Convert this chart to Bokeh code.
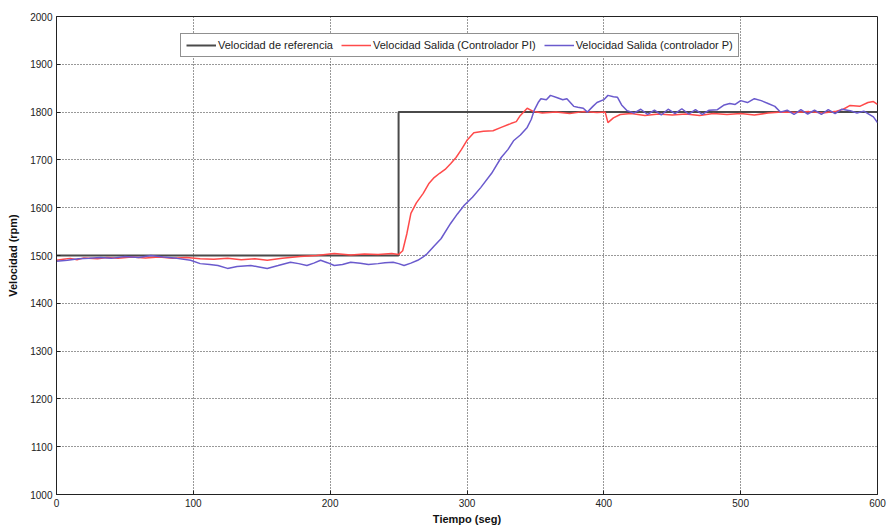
from bokeh.plotting import figure
from bokeh.models import Range1d, Legend, LegendItem, FixedTicker
from bokeh.embed import file_html
from bokeh.resources import INLINE

# Reference speed (step)
t_ref = [0, 250, 250, 600]
v_ref = [1500, 1500, 1800, 1800]

# Output speed, PI controller
t_pi = [0, 5, 10, 15, 20, 30, 37, 45, 55, 65, 75, 85, 95, 105, 115, 125, 135, 145, 154, 165,
        178, 190, 203, 215, 225, 235, 245, 250, 253, 256, 259, 263, 268, 272, 276, 280, 284, 288,
        292, 296, 300, 305, 312, 319, 325, 332, 336, 339, 344, 348, 355, 365, 375, 385, 395, 401,
        403, 407, 412, 420, 430, 440, 450, 460, 470, 480, 490, 500, 510, 520, 530, 540, 550, 560,
        570, 575, 580, 587, 593, 597, 600]
v_pi = [1490, 1492, 1494, 1491, 1495, 1493, 1496, 1494, 1497, 1495, 1497, 1494, 1496, 1493, 1492,
        1494, 1491, 1493, 1490, 1494, 1498, 1500, 1504, 1501, 1503, 1502, 1504, 1502, 1510, 1545,
        1588, 1610, 1630, 1650, 1663, 1672, 1680, 1692, 1705, 1722, 1741, 1757, 1760, 1761, 1768,
        1776, 1780, 1793, 1808, 1802, 1798, 1800, 1797, 1801, 1799, 1800, 1778, 1788, 1795, 1797,
        1793, 1796, 1794, 1796, 1793, 1797, 1795, 1797, 1794, 1798, 1800, 1799, 1801, 1798, 1802,
        1806, 1814, 1812, 1820, 1822, 1816]

# Output speed, P controller
t_p = [0, 8, 16, 24, 32, 40, 50, 60, 69, 78, 88, 98, 105, 112, 118, 125, 132, 142, 148, 154, 162,
       171, 177, 183, 188, 193, 198, 203, 209, 215, 222, 228, 235, 240, 246, 250, 254, 259, 264,
       268, 271, 276, 281, 288, 293, 298, 304, 310, 318, 325, 330, 334, 339, 344, 347, 349, 352,
       354, 358, 361, 366, 370, 373, 378, 381, 385, 388, 392, 395, 400, 403, 407, 410, 413, 417,
       422, 427, 432, 437, 442, 447, 452, 457, 462, 467, 472, 477, 483, 488, 492, 496, 500, 505,
       510, 515, 520, 525, 529, 534, 539, 544, 549, 554, 559, 564, 569, 574, 580, 585, 590, 593,
       597, 600]
v_p = [1488, 1490, 1493, 1494, 1496, 1494, 1498, 1496, 1500, 1497, 1494, 1490, 1483, 1481, 1479,
       1473, 1477, 1479, 1476, 1473, 1479, 1486, 1483, 1479, 1484, 1490, 1485, 1479, 1481, 1486,
       1484, 1481, 1483, 1485, 1486, 1483, 1479, 1484, 1490, 1497, 1504, 1520, 1535, 1567, 1587,
       1605, 1622, 1642, 1672, 1705, 1722, 1740, 1752, 1768, 1785, 1803, 1820, 1828, 1826, 1835,
       1830, 1826, 1828, 1812, 1810, 1808, 1800, 1812, 1820, 1826, 1835, 1832, 1831, 1815, 1803,
       1798, 1806, 1795, 1804, 1794, 1806, 1797, 1807, 1796, 1805, 1795, 1804, 1805, 1815, 1818,
       1816, 1824, 1820, 1828, 1824, 1818, 1812, 1800, 1804, 1795, 1805, 1796, 1804, 1795, 1805,
       1797, 1806, 1803, 1798, 1802, 1797, 1790, 1778]

x_ticks = [0, 100, 200, 300, 400, 500, 600]
y_ticks = [1000, 1100, 1200, 1300, 1400, 1500, 1600, 1700, 1800, 1900, 2000]

labels = ["Velocidad de referencia", "Velocidad Salida (Controlador PI)",
          "Velocidad Salida (controlador P)"]

FONT = "Liberation Sans Narrow, Liberation Sans, Arial Narrow, sans-serif"

p = figure(frame_width=821, frame_height=478, output_backend="svg", toolbar_location=None,
           x_range=Range1d(0, 600), y_range=Range1d(1000, 2000),
           min_border_left=56, min_border_right=10, min_border_top=16, min_border_bottom=34,
           background_fill_color="white", border_fill_color="white")

p.outline_line_color = "#222222"
p.outline_line_width = 1

r_ref = p.line(t_ref, v_ref, line_color="#4a4a4a", line_width=2)
r_pi = p.line(t_pi, v_pi, line_color="#ff4a4a", line_width=1.5)
r_p = p.line(t_p, v_p, line_color="#6a5acd", line_width=1.5)

for ax in (p.xaxis[0], p.yaxis[0]):
    ax.major_label_text_font = FONT
    ax.major_label_text_font_size = "10px"
    ax.major_label_text_color = "#222222"
    ax.axis_label_text_font = "Liberation Sans, Arial, sans-serif"
    ax.axis_label_text_font_style = "bold"
    ax.axis_label_text_font_size = "11px"
    ax.axis_label_text_color = "#111111"
    ax.axis_line_color = "#222222"
    ax.major_tick_in = 4
    ax.major_tick_out = 0
    ax.minor_tick_line_color = None
    ax.major_tick_line_color = "#222222"

p.xaxis.ticker = FixedTicker(ticks=x_ticks)
p.yaxis.ticker = FixedTicker(ticks=y_ticks)
p.xaxis.axis_label = "Tiempo (seg)"
p.yaxis.axis_label = "Velocidad (rpm)"
p.xaxis.major_label_standoff = 4
p.xaxis.axis_label_standoff = 3
p.yaxis.major_label_standoff = 4
p.yaxis.axis_label_standoff = 8

p.xgrid.ticker = FixedTicker(ticks=x_ticks)
p.ygrid.ticker = FixedTicker(ticks=y_ticks)
for g in (p.xgrid[0], p.ygrid[0]):
    g.grid_line_color = "#333333"
    g.grid_line_dash = "1 2"
    g.grid_line_width = 1

legend = Legend(items=[LegendItem(label=labels[0], renderers=[r_ref]),
                       LegendItem(label=labels[1], renderers=[r_pi]),
                       LegendItem(label=labels[2], renderers=[r_p])],
                orientation="horizontal", location=(124, 437),
                label_text_font=FONT, label_text_font_size="11px", label_text_color="#222222",
                glyph_width=30, glyph_height=10, label_standoff=2, spacing=8,
                padding=5, margin=0, label_height=12,
                border_line_color="#222222", border_line_width=1,
                background_fill_color="white", background_fill_alpha=1)
p.add_layout(legend, "center")

open("out.html", "w").write(file_html(p, INLINE))
